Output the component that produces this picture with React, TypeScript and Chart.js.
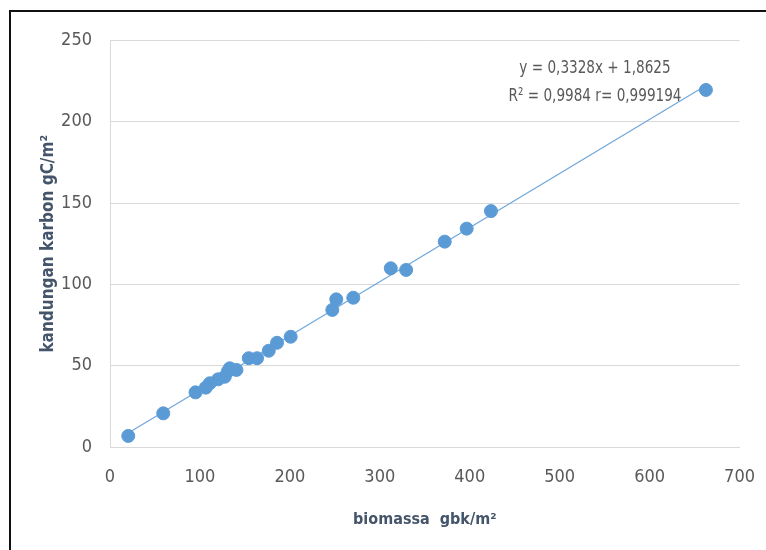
import React, { useEffect, useRef } from 'react';
import { Chart, registerables } from 'chart.js';

Chart.register(...registerables);

const biomassa = [20.3, 59.2, 95.1, 106.5, 111.0, 120.2, 127.6, 131.3, 133.2, 140.6, 154.3, 163.5, 176.5, 185.7, 200.9, 247.2, 251.6, 270.5, 312.2, 329.3, 372.2, 396.6, 423.6, 662.6];
const karbon = [6.8, 20.7, 33.6, 36.5, 39.2, 41.6, 43.2, 46.7, 48.4, 47.4, 54.6, 54.6, 59.2, 64.1, 67.8, 84.3, 90.8, 91.8, 109.9, 108.9, 126.3, 134.3, 145.1, 219.6];
const slope = 0.3328;
const intercept = 1.8625;
const equationLines = ['y = 0,3328x + 1,8625', 'R\u00B2 = 0,9984 r= 0,999194'];
const xTitle = 'biomassa  gbk/m\u00B2';
const yTitle = 'kandungan karbon gC/m\u00B2';

const FONT = "'Liberation Sans Narrow', 'DejaVu Sans Condensed', 'Liberation Sans', sans-serif";

const equationPlugin = {
  id: 'equationLabel',
  afterDraw(chart: any) {
    const { ctx, chartArea } = chart;
    ctx.save();
    ctx.font = `18px ${FONT}`;
    ctx.fillStyle = '#595959';
    ctx.textAlign = 'center';
    ctx.textBaseline = 'middle';
    const cx = chartArea.left + 485;
    const rows = [chartArea.top + 28, chartArea.top + 56];
    equationLines.forEach((t, i) => {
      ctx.save();
      ctx.translate(cx, rows[i]);
      ctx.scale(0.84, 1);
      ctx.fillText(t, 0, 0);
      ctx.restore();
    });
    ctx.restore();
  },
};

export default function App() {
  const ref = useRef<HTMLCanvasElement | null>(null);

  useEffect(() => {
    if (!ref.current) return;
    const points = biomassa.map((x, i) => ({ x, y: karbon[i] }));
    const xMin = Math.min(...biomassa);
    const xMax = Math.max(...biomassa);
    const trend = [
      { x: xMin, y: slope * xMin + intercept },
      { x: xMax, y: slope * xMax + intercept },
    ];
    const chart = new Chart(ref.current, {
      type: 'scatter',
      data: {
        datasets: [
          {
            type: 'line',
            label: 'trend',
            data: trend,
            borderColor: '#6FA6DB',
            borderWidth: 1.2,
            pointRadius: 0,
            showLine: true,
            fill: false,
            order: 2,
          } as any,
          {
            label: 'data',
            data: points,
            backgroundColor: '#5B9BD5',
            borderColor: '#5B9BD5',
            borderWidth: 1,
            pointRadius: 6.5,
            order: 1,
          },
        ],
      },
      options: {
        responsive: false,
        animation: false,
        layout: { padding: { top: 32.5, right: 17, left: 0, bottom: 0 } },
        plugins: {
          legend: { display: false },
          tooltip: { enabled: false },
          title: { display: false },
        },
        scales: {
          x: {
            type: 'linear',
            min: 0,
            max: 700,
            afterFit: (s: any) => { s.height = 95; },
            ticks: {
              stepSize: 100,
              color: '#595959',
              font: { family: FONT, size: 18 },
              padding: 3,
              maxRotation: 0,
            },
            grid: {
              display: true,
              drawOnChartArea: false,
              drawTicks: true,
              tickLength: 17,
              tickColor: 'rgba(0,0,0,0)',
            },
            border: { display: true, color: '#D9D9D9', width: 1 },
            title: {
              display: true,
              text: xTitle,
              color: '#44546A',
              font: { family: FONT, size: 16, weight: 'bold' },
              padding: { top: 0, bottom: 12.5 },
            },
          },
          y: {
            type: 'linear',
            min: 0,
            max: 250,
            afterFit: (s: any) => { s.width = 102; },
            ticks: {
              stepSize: 50,
              color: '#595959',
              font: { family: FONT, size: 18 },
              padding: 3,
            },
            grid: {
              color: '#D9D9D9',
              drawTicks: true,
              tickLength: 15,
              tickColor: 'rgba(0,0,0,0)',
              lineWidth: 1,
            },
            border: { display: true, color: '#D9D9D9', width: 1 },
            title: {
              display: true,
              text: yTitle,
              color: '#44546A',
              font: { family: FONT, size: 17, weight: 'bold' },
              padding: { top: 30, bottom: 0 },
            },
          },
        },
      },
      plugins: [equationPlugin],
    });
    return () => chart.destroy();
  }, []);

  return (
    <div style={{ position: 'relative', width: 750, height: 534, background: '#fff' }}>
      <div
        style={{
          position: 'fixed',
          left: 9,
          top: 10,
          width: 755,
          height: 538,
          borderLeft: '2px solid #111',
          borderTop: '2px solid #111',
          pointerEvents: 'none',
        }}
      />
      <canvas ref={ref} width={750} height={534} style={{ position: 'absolute', left: 0, top: 0, display: 'block' }} />
    </div>
  );
}
